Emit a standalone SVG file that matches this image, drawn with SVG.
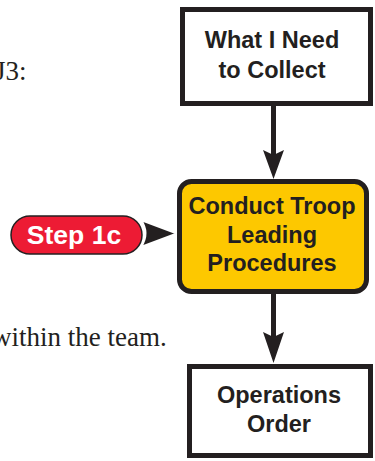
<svg xmlns="http://www.w3.org/2000/svg" width="375" height="461" viewBox="0 0 375 461">
  <style>
    .box { fill: #ffffff; stroke: #231f20; stroke-width: 5; }
    .proc { fill: #fdc800; stroke: #231f20; stroke-width: 5; }
    .label { font-family: "Liberation Sans", Arial, sans-serif; font-weight: bold; font-size: 23.5px; fill: #231f20; text-anchor: middle; }
    .step { font-family: "Liberation Sans", Arial, sans-serif; font-weight: bold; font-size: 26.5px; fill: #ffffff; text-anchor: middle; }
    .body { font-family: "Liberation Serif", "Times New Roman", serif; font-size: 27px; fill: #231f20; }
    .wire { stroke: #231f20; stroke-width: 5; fill: none; }
    .head { fill: #231f20; }
  </style>

  <!-- running text beside the chart -->
  <text class="body" x="-5" y="80">J3:</text>
  <text class="body" x="-8" y="346">within the team.</text>

  <!-- connectors -->
  <g id="connectors">
    <line class="wire" x1="273.5" y1="106" x2="273.5" y2="156"/>
    <path class="head" d="M263,150 L273.5,155 L284,150 L273.5,179 Z"/>
    <line class="wire" x1="273.5" y1="294" x2="273.5" y2="338"/>
    <path class="head" d="M263,332 L273.5,337 L284,332 L273.5,363 Z"/>
    <path class="head" d="M141,220 Q150,233 141,247 L177,233.5 Z" stroke="#ffffff" stroke-width="2" stroke-linejoin="round"/>
  </g>

  <g id="collect">
    <rect class="box" x="182.5" y="9.5" width="188" height="94"/>
    <text class="label" x="272" y="48">What I Need</text>
    <text class="label" x="272" y="78">to Collect</text>
  </g>

  <g id="tlp">
    <rect class="proc" x="179.5" y="181.5" width="187" height="110" rx="12"/>
    <text class="label" x="272" y="214">Conduct Troop</text>
    <text class="label" x="272" y="243">Leading</text>
    <text class="label" x="272" y="271">Procedures</text>
  </g>

  <g id="step1c">
    <rect x="11" y="216" width="131" height="38" rx="19" fill="#ed1b34" stroke="#231f20" stroke-width="1.5"/>
    <text class="step" x="74" y="244">Step 1c</text>
  </g>

  <g id="opord">
    <rect class="box" x="189.5" y="366.5" width="181" height="89"/>
    <text class="label" x="279" y="403">Operations</text>
    <text class="label" x="279" y="432">Order</text>
  </g>
</svg>
